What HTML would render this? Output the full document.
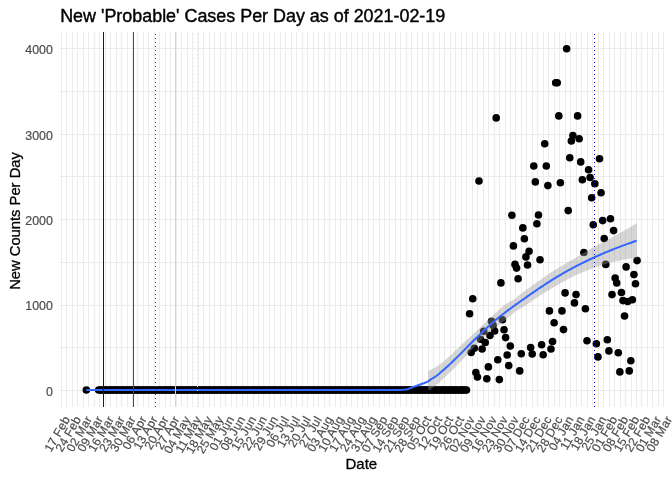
<!DOCTYPE html><html><head><meta charset="utf-8"><style>html,body{margin:0;padding:0;background:#fff;width:672px;height:480px;overflow:hidden}</style></head><body><svg width="672" height="480" viewBox="0 0 672 480" style="position:absolute;left:0;top:0">
<rect width="672" height="480" fill="#fff"/>
<path d="M61.5 32.0V407.0M66.5 32.0V407.0M72.5 32.0V407.0M77.5 32.0V407.0M83.5 32.0V407.0M88.5 32.0V407.0M94.5 32.0V407.0M99.5 32.0V407.0M105.5 32.0V407.0M110.5 32.0V407.0M116.5 32.0V407.0M121.5 32.0V407.0M127.5 32.0V407.0M132.5 32.0V407.0M137.5 32.0V407.0M143.5 32.0V407.0M148.5 32.0V407.0M154.5 32.0V407.0M159.5 32.0V407.0M165.5 32.0V407.0M170.5 32.0V407.0M176.5 32.0V407.0M181.5 32.0V407.0M187.5 32.0V407.0M192.5 32.0V407.0M198.5 32.0V407.0M203.5 32.0V407.0M209.5 32.0V407.0M214.5 32.0V407.0M220.5 32.0V407.0M225.5 32.0V407.0M231.5 32.0V407.0M236.5 32.0V407.0M242.5 32.0V407.0M247.5 32.0V407.0M253.5 32.0V407.0M258.5 32.0V407.0M263.5 32.0V407.0M269.5 32.0V407.0M274.5 32.0V407.0M280.5 32.0V407.0M285.5 32.0V407.0M291.5 32.0V407.0M296.5 32.0V407.0M302.5 32.0V407.0M307.5 32.0V407.0M313.5 32.0V407.0M318.5 32.0V407.0M324.5 32.0V407.0M329.5 32.0V407.0M335.5 32.0V407.0M340.5 32.0V407.0M346.5 32.0V407.0M351.5 32.0V407.0M357.5 32.0V407.0M362.5 32.0V407.0M368.5 32.0V407.0M373.5 32.0V407.0M379.5 32.0V407.0M384.5 32.0V407.0M389.5 32.0V407.0M395.5 32.0V407.0M400.5 32.0V407.0M406.5 32.0V407.0M411.5 32.0V407.0M417.5 32.0V407.0M422.5 32.0V407.0M428.5 32.0V407.0M433.5 32.0V407.0M439.5 32.0V407.0M444.5 32.0V407.0M450.5 32.0V407.0M455.5 32.0V407.0M461.5 32.0V407.0M466.5 32.0V407.0M472.5 32.0V407.0M477.5 32.0V407.0M483.5 32.0V407.0M488.5 32.0V407.0M494.5 32.0V407.0M499.5 32.0V407.0M505.5 32.0V407.0M510.5 32.0V407.0M515.5 32.0V407.0M521.5 32.0V407.0M526.5 32.0V407.0M532.5 32.0V407.0M537.5 32.0V407.0M543.5 32.0V407.0M548.5 32.0V407.0M554.5 32.0V407.0M559.5 32.0V407.0M565.5 32.0V407.0M570.5 32.0V407.0M576.5 32.0V407.0M581.5 32.0V407.0M587.5 32.0V407.0M592.5 32.0V407.0M598.5 32.0V407.0M603.5 32.0V407.0M609.5 32.0V407.0M614.5 32.0V407.0M620.5 32.0V407.0M625.5 32.0V407.0M631.5 32.0V407.0M636.5 32.0V407.0M641.5 32.0V407.0M647.5 32.0V407.0M652.5 32.0V407.0M658.5 32.0V407.0M663.5 32.0V407.0M60 390.5H664M60 347.5H664M60 305.5H664M60 262.5H664M60 219.5H664M60 176.5H664M60 134.5H664M60 91.5H664M60 48.5H664" stroke="#EBEBEB" stroke-width="1" fill="none" shape-rendering="crispEdges"/>
<g fill="#000"><circle cx="86.34" cy="390.0" r="3.8"/><circle cx="98.66" cy="390.0" r="3.8"/><circle cx="100.23" cy="390.0" r="3.8"/><circle cx="101.79" cy="390.0" r="3.8"/><circle cx="103.36" cy="390.0" r="3.8"/><circle cx="104.92" cy="390.0" r="3.8"/><circle cx="106.49" cy="390.0" r="3.8"/><circle cx="108.05" cy="390.0" r="3.8"/><circle cx="109.62" cy="390.0" r="3.8"/><circle cx="111.18" cy="390.0" r="3.8"/><circle cx="112.75" cy="390.0" r="3.8"/><circle cx="114.31" cy="390.0" r="3.8"/><circle cx="115.88" cy="390.0" r="3.8"/><circle cx="117.45" cy="390.0" r="3.8"/><circle cx="119.01" cy="390.0" r="3.8"/><circle cx="120.58" cy="390.0" r="3.8"/><circle cx="122.14" cy="390.0" r="3.8"/><circle cx="123.71" cy="390.0" r="3.8"/><circle cx="125.27" cy="390.0" r="3.8"/><circle cx="126.84" cy="390.0" r="3.8"/><circle cx="128.4" cy="390.0" r="3.8"/><circle cx="129.97" cy="390.0" r="3.8"/><circle cx="131.53" cy="390.0" r="3.8"/><circle cx="133.1" cy="390.0" r="3.8"/><circle cx="134.66" cy="390.0" r="3.8"/><circle cx="136.23" cy="390.0" r="3.8"/><circle cx="137.79" cy="390.0" r="3.8"/><circle cx="139.36" cy="390.0" r="3.8"/><circle cx="140.92" cy="390.0" r="3.8"/><circle cx="142.49" cy="390.0" r="3.8"/><circle cx="144.05" cy="390.0" r="3.8"/><circle cx="145.62" cy="390.0" r="3.8"/><circle cx="147.18" cy="390.0" r="3.8"/><circle cx="148.75" cy="390.0" r="3.8"/><circle cx="150.31" cy="390.0" r="3.8"/><circle cx="151.88" cy="390.0" r="3.8"/><circle cx="153.44" cy="390.0" r="3.8"/><circle cx="155.01" cy="390.0" r="3.8"/><circle cx="156.57" cy="390.0" r="3.8"/><circle cx="158.14" cy="390.0" r="3.8"/><circle cx="159.7" cy="390.0" r="3.8"/><circle cx="161.27" cy="390.0" r="3.8"/><circle cx="162.83" cy="390.0" r="3.8"/><circle cx="164.4" cy="390.0" r="3.8"/><circle cx="165.96" cy="390.0" r="3.8"/><circle cx="167.53" cy="390.0" r="3.8"/><circle cx="169.09" cy="390.0" r="3.8"/><circle cx="170.66" cy="390.0" r="3.8"/><circle cx="172.23" cy="390.0" r="3.8"/><circle cx="173.79" cy="390.0" r="3.8"/><circle cx="175.36" cy="390.0" r="3.8"/><circle cx="176.92" cy="390.0" r="3.8"/><circle cx="178.49" cy="390.0" r="3.8"/><circle cx="180.05" cy="390.0" r="3.8"/><circle cx="181.62" cy="390.0" r="3.8"/><circle cx="183.18" cy="390.0" r="3.8"/><circle cx="184.75" cy="390.0" r="3.8"/><circle cx="186.31" cy="390.0" r="3.8"/><circle cx="187.88" cy="390.0" r="3.8"/><circle cx="189.44" cy="390.0" r="3.8"/><circle cx="191.01" cy="390.0" r="3.8"/><circle cx="192.57" cy="390.0" r="3.8"/><circle cx="194.14" cy="390.0" r="3.8"/><circle cx="195.7" cy="390.0" r="3.8"/><circle cx="197.27" cy="390.0" r="3.8"/><circle cx="198.83" cy="390.0" r="3.8"/><circle cx="200.4" cy="390.0" r="3.8"/><circle cx="201.96" cy="390.0" r="3.8"/><circle cx="203.53" cy="390.0" r="3.8"/><circle cx="205.09" cy="390.0" r="3.8"/><circle cx="206.66" cy="390.0" r="3.8"/><circle cx="208.22" cy="390.0" r="3.8"/><circle cx="209.79" cy="390.0" r="3.8"/><circle cx="211.35" cy="390.0" r="3.8"/><circle cx="212.92" cy="390.0" r="3.8"/><circle cx="214.48" cy="390.0" r="3.8"/><circle cx="216.05" cy="390.0" r="3.8"/><circle cx="217.61" cy="390.0" r="3.8"/><circle cx="219.18" cy="390.0" r="3.8"/><circle cx="220.74" cy="390.0" r="3.8"/><circle cx="222.31" cy="390.0" r="3.8"/><circle cx="223.87" cy="390.0" r="3.8"/><circle cx="225.44" cy="390.0" r="3.8"/><circle cx="227.01" cy="390.0" r="3.8"/><circle cx="228.57" cy="390.0" r="3.8"/><circle cx="230.14" cy="390.0" r="3.8"/><circle cx="231.7" cy="390.0" r="3.8"/><circle cx="233.27" cy="390.0" r="3.8"/><circle cx="234.83" cy="390.0" r="3.8"/><circle cx="236.4" cy="390.0" r="3.8"/><circle cx="237.96" cy="390.0" r="3.8"/><circle cx="239.53" cy="390.0" r="3.8"/><circle cx="241.09" cy="390.0" r="3.8"/><circle cx="242.66" cy="390.0" r="3.8"/><circle cx="244.22" cy="390.0" r="3.8"/><circle cx="245.79" cy="390.0" r="3.8"/><circle cx="247.35" cy="390.0" r="3.8"/><circle cx="248.92" cy="390.0" r="3.8"/><circle cx="250.48" cy="390.0" r="3.8"/><circle cx="252.05" cy="390.0" r="3.8"/><circle cx="253.61" cy="390.0" r="3.8"/><circle cx="255.18" cy="390.0" r="3.8"/><circle cx="256.74" cy="390.0" r="3.8"/><circle cx="258.31" cy="390.0" r="3.8"/><circle cx="259.87" cy="390.0" r="3.8"/><circle cx="261.44" cy="390.0" r="3.8"/><circle cx="263.0" cy="390.0" r="3.8"/><circle cx="264.57" cy="390.0" r="3.8"/><circle cx="266.13" cy="390.0" r="3.8"/><circle cx="267.7" cy="390.0" r="3.8"/><circle cx="269.26" cy="390.0" r="3.8"/><circle cx="270.83" cy="390.0" r="3.8"/><circle cx="272.39" cy="390.0" r="3.8"/><circle cx="273.96" cy="390.0" r="3.8"/><circle cx="275.52" cy="390.0" r="3.8"/><circle cx="277.09" cy="390.0" r="3.8"/><circle cx="278.65" cy="390.0" r="3.8"/><circle cx="280.22" cy="390.0" r="3.8"/><circle cx="281.79" cy="390.0" r="3.8"/><circle cx="283.35" cy="390.0" r="3.8"/><circle cx="284.92" cy="390.0" r="3.8"/><circle cx="286.48" cy="390.0" r="3.8"/><circle cx="288.05" cy="390.0" r="3.8"/><circle cx="289.61" cy="390.0" r="3.8"/><circle cx="291.18" cy="390.0" r="3.8"/><circle cx="292.74" cy="390.0" r="3.8"/><circle cx="294.31" cy="390.0" r="3.8"/><circle cx="295.87" cy="390.0" r="3.8"/><circle cx="297.44" cy="390.0" r="3.8"/><circle cx="299.0" cy="390.0" r="3.8"/><circle cx="300.57" cy="390.0" r="3.8"/><circle cx="302.13" cy="390.0" r="3.8"/><circle cx="303.7" cy="390.0" r="3.8"/><circle cx="305.26" cy="390.0" r="3.8"/><circle cx="306.83" cy="390.0" r="3.8"/><circle cx="308.39" cy="390.0" r="3.8"/><circle cx="309.96" cy="390.0" r="3.8"/><circle cx="311.52" cy="390.0" r="3.8"/><circle cx="313.09" cy="390.0" r="3.8"/><circle cx="314.65" cy="390.0" r="3.8"/><circle cx="316.22" cy="390.0" r="3.8"/><circle cx="317.78" cy="390.0" r="3.8"/><circle cx="319.35" cy="390.0" r="3.8"/><circle cx="320.91" cy="390.0" r="3.8"/><circle cx="322.48" cy="390.0" r="3.8"/><circle cx="324.04" cy="390.0" r="3.8"/><circle cx="325.61" cy="390.0" r="3.8"/><circle cx="327.17" cy="390.0" r="3.8"/><circle cx="328.74" cy="390.0" r="3.8"/><circle cx="330.3" cy="390.0" r="3.8"/><circle cx="331.87" cy="390.0" r="3.8"/><circle cx="333.43" cy="390.0" r="3.8"/><circle cx="335.0" cy="390.0" r="3.8"/><circle cx="336.57" cy="390.0" r="3.8"/><circle cx="338.13" cy="390.0" r="3.8"/><circle cx="339.7" cy="390.0" r="3.8"/><circle cx="341.26" cy="390.0" r="3.8"/><circle cx="342.83" cy="390.0" r="3.8"/><circle cx="344.39" cy="390.0" r="3.8"/><circle cx="345.96" cy="390.0" r="3.8"/><circle cx="347.52" cy="390.0" r="3.8"/><circle cx="349.09" cy="390.0" r="3.8"/><circle cx="350.65" cy="390.0" r="3.8"/><circle cx="352.22" cy="390.0" r="3.8"/><circle cx="353.78" cy="390.0" r="3.8"/><circle cx="355.35" cy="390.0" r="3.8"/><circle cx="356.91" cy="390.0" r="3.8"/><circle cx="358.48" cy="390.0" r="3.8"/><circle cx="360.04" cy="390.0" r="3.8"/><circle cx="361.61" cy="390.0" r="3.8"/><circle cx="363.17" cy="390.0" r="3.8"/><circle cx="364.74" cy="390.0" r="3.8"/><circle cx="366.3" cy="390.0" r="3.8"/><circle cx="367.87" cy="390.0" r="3.8"/><circle cx="369.43" cy="390.0" r="3.8"/><circle cx="371.0" cy="390.0" r="3.8"/><circle cx="372.56" cy="390.0" r="3.8"/><circle cx="374.13" cy="390.0" r="3.8"/><circle cx="375.69" cy="390.0" r="3.8"/><circle cx="377.26" cy="390.0" r="3.8"/><circle cx="378.82" cy="390.0" r="3.8"/><circle cx="380.39" cy="390.0" r="3.8"/><circle cx="381.95" cy="390.0" r="3.8"/><circle cx="383.52" cy="390.0" r="3.8"/><circle cx="385.08" cy="390.0" r="3.8"/><circle cx="386.65" cy="390.0" r="3.8"/><circle cx="388.21" cy="390.0" r="3.8"/><circle cx="389.78" cy="390.0" r="3.8"/><circle cx="391.35" cy="390.0" r="3.8"/><circle cx="392.91" cy="390.0" r="3.8"/><circle cx="394.48" cy="390.0" r="3.8"/><circle cx="396.04" cy="390.0" r="3.8"/><circle cx="397.61" cy="390.0" r="3.8"/><circle cx="399.17" cy="390.0" r="3.8"/><circle cx="400.74" cy="390.0" r="3.8"/><circle cx="402.3" cy="390.0" r="3.8"/><circle cx="403.87" cy="390.0" r="3.8"/><circle cx="405.43" cy="390.0" r="3.8"/><circle cx="407.0" cy="390.0" r="3.8"/><circle cx="408.56" cy="390.0" r="3.8"/><circle cx="410.13" cy="390.0" r="3.8"/><circle cx="411.69" cy="390.0" r="3.8"/><circle cx="413.26" cy="390.0" r="3.8"/><circle cx="414.82" cy="390.0" r="3.8"/><circle cx="416.39" cy="390.0" r="3.8"/><circle cx="417.95" cy="390.0" r="3.8"/><circle cx="419.52" cy="390.0" r="3.8"/><circle cx="421.08" cy="390.0" r="3.8"/><circle cx="422.65" cy="390.0" r="3.8"/><circle cx="424.21" cy="390.0" r="3.8"/><circle cx="425.78" cy="390.0" r="3.8"/><circle cx="427.34" cy="390.0" r="3.8"/><circle cx="428.91" cy="390.0" r="3.8"/><circle cx="430.47" cy="390.0" r="3.8"/><circle cx="432.04" cy="390.0" r="3.8"/><circle cx="433.6" cy="390.0" r="3.8"/><circle cx="435.17" cy="390.0" r="3.8"/><circle cx="436.73" cy="390.0" r="3.8"/><circle cx="438.3" cy="390.0" r="3.8"/><circle cx="439.86" cy="390.0" r="3.8"/><circle cx="441.43" cy="390.0" r="3.8"/><circle cx="442.99" cy="390.0" r="3.8"/><circle cx="444.56" cy="390.0" r="3.8"/><circle cx="446.13" cy="390.0" r="3.8"/><circle cx="447.69" cy="390.0" r="3.8"/><circle cx="449.26" cy="390.0" r="3.8"/><circle cx="450.82" cy="390.0" r="3.8"/><circle cx="452.39" cy="390.0" r="3.8"/><circle cx="453.95" cy="390.0" r="3.8"/><circle cx="455.52" cy="390.0" r="3.8"/><circle cx="457.08" cy="390.0" r="3.8"/><circle cx="458.65" cy="390.0" r="3.8"/><circle cx="460.21" cy="390.0" r="3.8"/><circle cx="461.78" cy="390.0" r="3.8"/><circle cx="463.34" cy="390.0" r="3.8"/><circle cx="464.91" cy="390.0" r="3.8"/><circle cx="466.47" cy="390.0" r="3.8"/><circle cx="469.6" cy="313.75" r="3.8"/><circle cx="471.17" cy="352.5" r="3.8"/><circle cx="472.73" cy="298.75" r="3.8"/><circle cx="474.3" cy="348.3" r="3.8"/><circle cx="475.86" cy="372.5" r="3.8"/><circle cx="477.43" cy="377.0" r="3.8"/><circle cx="478.99" cy="181.0" r="3.8"/><circle cx="480.56" cy="339.2" r="3.8"/><circle cx="482.12" cy="349.0" r="3.8"/><circle cx="483.69" cy="331.25" r="3.8"/><circle cx="485.25" cy="342.5" r="3.8"/><circle cx="486.82" cy="378.75" r="3.8"/><circle cx="488.38" cy="366.9" r="3.8"/><circle cx="489.95" cy="335.5" r="3.8"/><circle cx="491.51" cy="321.25" r="3.8"/><circle cx="493.08" cy="325.4" r="3.8"/><circle cx="494.64" cy="331.0" r="3.8"/><circle cx="496.21" cy="117.9" r="3.8"/><circle cx="497.77" cy="359.75" r="3.8"/><circle cx="499.34" cy="379.6" r="3.8"/><circle cx="500.91" cy="282.9" r="3.8"/><circle cx="502.47" cy="319.8" r="3.8"/><circle cx="504.04" cy="329.8" r="3.8"/><circle cx="505.6" cy="337.6" r="3.8"/><circle cx="507.17" cy="355.0" r="3.8"/><circle cx="508.73" cy="365.6" r="3.8"/><circle cx="510.3" cy="346.0" r="3.8"/><circle cx="511.86" cy="215.3" r="3.8"/><circle cx="513.43" cy="245.9" r="3.8"/><circle cx="514.99" cy="264.4" r="3.8"/><circle cx="516.56" cy="268.1" r="3.8"/><circle cx="518.12" cy="278.75" r="3.8"/><circle cx="519.69" cy="370.9" r="3.8"/><circle cx="521.25" cy="353.75" r="3.8"/><circle cx="522.82" cy="227.9" r="3.8"/><circle cx="524.38" cy="238.75" r="3.8"/><circle cx="525.95" cy="256.9" r="3.8"/><circle cx="527.51" cy="265.0" r="3.8"/><circle cx="529.08" cy="251.25" r="3.8"/><circle cx="530.64" cy="347.5" r="3.8"/><circle cx="532.21" cy="354.0" r="3.8"/><circle cx="533.77" cy="166.0" r="3.8"/><circle cx="535.34" cy="181.9" r="3.8"/><circle cx="536.9" cy="223.75" r="3.8"/><circle cx="538.47" cy="215.0" r="3.8"/><circle cx="540.03" cy="259.75" r="3.8"/><circle cx="541.6" cy="344.75" r="3.8"/><circle cx="543.16" cy="354.75" r="3.8"/><circle cx="544.73" cy="143.75" r="3.8"/><circle cx="546.29" cy="166.0" r="3.8"/><circle cx="547.86" cy="185.6" r="3.8"/><circle cx="549.42" cy="310.9" r="3.8"/><circle cx="550.99" cy="349.0" r="3.8"/><circle cx="552.55" cy="341.5" r="3.8"/><circle cx="554.12" cy="322.75" r="3.8"/><circle cx="555.69" cy="82.75" r="3.8"/><circle cx="557.25" cy="82.75" r="3.8"/><circle cx="558.82" cy="115.9" r="3.8"/><circle cx="560.38" cy="182.75" r="3.8"/><circle cx="561.95" cy="310.9" r="3.8"/><circle cx="563.51" cy="329.6" r="3.8"/><circle cx="565.08" cy="292.9" r="3.8"/><circle cx="566.64" cy="48.75" r="3.8"/><circle cx="568.21" cy="210.6" r="3.8"/><circle cx="569.77" cy="157.75" r="3.8"/><circle cx="571.34" cy="141.0" r="3.8"/><circle cx="572.9" cy="135.6" r="3.8"/><circle cx="574.47" cy="302.9" r="3.8"/><circle cx="576.03" cy="294.6" r="3.8"/><circle cx="577.6" cy="115.9" r="3.8"/><circle cx="579.16" cy="138.75" r="3.8"/><circle cx="580.73" cy="161.9" r="3.8"/><circle cx="582.29" cy="179.75" r="3.8"/><circle cx="583.86" cy="252.5" r="3.8"/><circle cx="585.42" cy="308.75" r="3.8"/><circle cx="586.99" cy="340.8" r="3.8"/><circle cx="588.55" cy="169.75" r="3.8"/><circle cx="590.12" cy="177.5" r="3.8"/><circle cx="591.68" cy="197.75" r="3.8"/><circle cx="593.25" cy="224.75" r="3.8"/><circle cx="594.81" cy="183.75" r="3.8"/><circle cx="596.38" cy="343.75" r="3.8"/><circle cx="597.94" cy="356.9" r="3.8"/><circle cx="599.51" cy="158.75" r="3.8"/><circle cx="601.07" cy="192.75" r="3.8"/><circle cx="602.64" cy="220.6" r="3.8"/><circle cx="604.2" cy="238.5" r="3.8"/><circle cx="605.77" cy="264.4" r="3.8"/><circle cx="607.33" cy="339.75" r="3.8"/><circle cx="608.9" cy="350.9" r="3.8"/><circle cx="610.47" cy="218.75" r="3.8"/><circle cx="612.03" cy="294.6" r="3.8"/><circle cx="613.6" cy="230.6" r="3.8"/><circle cx="615.16" cy="278.0" r="3.8"/><circle cx="616.73" cy="283.0" r="3.8"/><circle cx="618.29" cy="352.8" r="3.8"/><circle cx="619.86" cy="371.9" r="3.8"/><circle cx="621.42" cy="292.5" r="3.8"/><circle cx="622.99" cy="300.6" r="3.8"/><circle cx="624.55" cy="316.0" r="3.8"/><circle cx="626.12" cy="266.9" r="3.8"/><circle cx="627.68" cy="301.5" r="3.8"/><circle cx="629.25" cy="370.9" r="3.8"/><circle cx="630.81" cy="360.8" r="3.8"/><circle cx="632.38" cy="299.75" r="3.8"/><circle cx="633.94" cy="274.6" r="3.8"/><circle cx="635.51" cy="283.75" r="3.8"/><circle cx="637.07" cy="260.6" r="3.8"/></g>
<path d="M428.20 370.90 L429.20 370.46 L430.20 370.00 L431.20 369.52 L432.20 369.02 L433.20 368.50 L434.20 367.96 L435.20 367.38 L436.20 366.78 L437.20 366.14 L438.20 365.47 L439.20 364.77 L440.20 364.04 L441.20 363.29 L442.20 362.51 L443.20 361.71 L444.20 360.88 L445.20 360.04 L446.20 359.18 L447.20 358.30 L448.20 357.40 L449.20 356.49 L450.20 355.57 L451.20 354.64 L452.20 353.69 L453.20 352.74 L454.20 351.79 L455.20 350.83 L456.20 349.87 L457.20 348.90 L458.20 347.94 L459.20 346.97 L460.20 346.02 L461.20 345.06 L462.20 344.11 L463.20 343.17 L464.20 342.24 L465.20 341.33 L466.20 340.42 L467.20 339.51 L468.20 338.60 L469.20 337.69 L470.20 336.77 L471.20 335.85 L472.20 334.92 L473.20 334.00 L474.20 333.07 L475.20 332.13 L476.20 331.20 L477.20 330.27 L478.20 329.33 L479.20 328.40 L480.20 327.46 L481.20 326.53 L482.20 325.59 L483.20 324.66 L484.20 323.73 L485.20 322.80 L486.20 321.88 L487.20 320.95 L488.20 320.03 L489.20 319.12 L490.20 318.19 L491.20 317.24 L492.20 316.28 L493.20 315.30 L494.20 314.33 L495.20 313.35 L496.20 312.38 L497.20 311.41 L498.20 310.46 L499.20 309.53 L500.20 308.61 L501.20 307.73 L502.20 306.88 L503.20 306.06 L504.20 305.28 L505.20 304.55 L506.20 303.87 L507.20 303.25 L508.20 302.69 L509.20 302.15 L510.20 301.62 L511.20 301.08 L512.20 300.50 L513.20 299.87 L514.20 299.18 L515.20 298.45 L516.20 297.68 L517.20 296.89 L518.20 296.08 L519.20 295.26 L520.20 294.43 L521.20 293.60 L522.20 292.78 L523.20 291.98 L524.20 291.20 L525.20 290.45 L526.20 289.72 L527.20 289.01 L528.20 288.30 L529.20 287.60 L530.20 286.91 L531.20 286.23 L532.20 285.54 L533.20 284.86 L534.20 284.18 L535.20 283.49 L536.20 282.80 L537.20 282.11 L538.20 281.41 L539.20 280.70 L540.20 279.99 L541.20 279.27 L542.20 278.55 L543.20 277.83 L544.20 277.12 L545.20 276.41 L546.20 275.70 L547.20 275.00 L548.20 274.31 L549.20 273.63 L550.20 272.97 L551.20 272.31 L552.20 271.66 L553.20 271.02 L554.20 270.39 L555.20 269.76 L556.20 269.13 L557.20 268.51 L558.20 267.90 L559.20 267.29 L560.20 266.68 L561.20 266.08 L562.20 265.48 L563.20 264.88 L564.20 264.29 L565.20 263.71 L566.20 263.13 L567.20 262.56 L568.20 261.99 L569.20 261.42 L570.20 260.85 L571.20 260.28 L572.20 259.71 L573.20 259.14 L574.20 258.56 L575.20 257.98 L576.20 257.40 L577.20 256.81 L578.20 256.22 L579.20 255.63 L580.20 255.03 L581.20 254.44 L582.20 253.85 L583.20 253.25 L584.20 252.66 L585.20 252.07 L586.20 251.49 L587.20 250.90 L588.20 250.33 L589.20 249.75 L590.20 249.19 L591.20 248.63 L592.20 248.07 L593.20 247.53 L594.20 246.98 L595.20 246.44 L596.20 245.90 L597.20 245.36 L598.20 244.83 L599.20 244.29 L600.20 243.75 L601.20 243.21 L602.20 242.66 L603.20 242.12 L604.20 241.57 L605.20 241.02 L606.20 240.46 L607.20 239.91 L608.20 239.36 L609.20 238.80 L610.20 238.25 L611.20 237.70 L612.20 237.14 L613.20 236.59 L614.20 236.04 L615.20 235.49 L616.20 234.94 L617.20 234.40 L618.20 233.86 L619.20 233.32 L620.20 232.78 L621.20 232.25 L622.20 231.70 L623.20 231.16 L624.20 230.61 L625.20 230.06 L626.20 229.49 L627.20 228.92 L628.20 228.34 L629.20 227.76 L630.20 227.16 L631.20 226.56 L632.20 225.96 L633.20 225.35 L634.20 224.73 L635.20 224.11 L636.20 223.48 L636.80 223.10 L636.80 258.19 L636.20 258.23 L635.20 258.28 L634.20 258.35 L633.20 258.43 L632.20 258.51 L631.20 258.61 L630.20 258.72 L629.20 258.83 L628.20 258.96 L627.20 259.11 L626.20 259.26 L625.20 259.43 L624.20 259.61 L623.20 259.80 L622.20 260.00 L621.20 260.21 L620.20 260.43 L619.20 260.65 L618.20 260.88 L617.20 261.11 L616.20 261.34 L615.20 261.58 L614.20 261.81 L613.20 262.05 L612.20 262.30 L611.20 262.55 L610.20 262.81 L609.20 263.07 L608.20 263.33 L607.20 263.61 L606.20 263.89 L605.20 264.17 L604.20 264.47 L603.20 264.77 L602.20 265.08 L601.20 265.40 L600.20 265.72 L599.20 266.06 L598.20 266.40 L597.20 266.76 L596.20 267.11 L595.20 267.48 L594.20 267.84 L593.20 268.21 L592.20 268.59 L591.20 268.96 L590.20 269.34 L589.20 269.72 L588.20 270.09 L587.20 270.47 L586.20 270.85 L585.20 271.24 L584.20 271.63 L583.20 272.02 L582.20 272.42 L581.20 272.83 L580.20 273.24 L579.20 273.66 L578.20 274.09 L577.20 274.53 L576.20 274.98 L575.20 275.44 L574.20 275.92 L573.20 276.40 L572.20 276.90 L571.20 277.41 L570.20 277.93 L569.20 278.45 L568.20 278.98 L567.20 279.52 L566.20 280.07 L565.20 280.62 L564.20 281.17 L563.20 281.72 L562.20 282.28 L561.20 282.84 L560.20 283.40 L559.20 283.98 L558.20 284.55 L557.20 285.14 L556.20 285.72 L555.20 286.31 L554.20 286.91 L553.20 287.50 L552.20 288.10 L551.20 288.71 L550.20 289.31 L549.20 289.91 L548.20 290.51 L547.20 291.11 L546.20 291.71 L545.20 292.30 L544.20 292.90 L543.20 293.51 L542.20 294.12 L541.20 294.73 L540.20 295.36 L539.20 295.99 L538.20 296.63 L537.20 297.29 L536.20 297.96 L535.20 298.64 L534.20 299.33 L533.20 300.02 L532.20 300.73 L531.20 301.43 L530.20 302.13 L529.20 302.83 L528.20 303.53 L527.20 304.22 L526.20 304.91 L525.20 305.58 L524.20 306.24 L523.20 306.87 L522.20 307.47 L521.20 308.07 L520.20 308.65 L519.20 309.23 L518.20 309.82 L517.20 310.42 L516.20 311.05 L515.20 311.71 L514.20 312.41 L513.20 313.16 L512.20 313.97 L511.20 314.84 L510.20 315.75 L509.20 316.69 L508.20 317.64 L507.20 318.56 L506.20 319.45 L505.20 320.28 L504.20 321.07 L503.20 321.84 L502.20 322.58 L501.20 323.29 L500.20 324.00 L499.20 324.69 L498.20 325.38 L497.20 326.07 L496.20 326.76 L495.20 327.47 L494.20 328.20 L493.20 328.94 L492.20 329.72 L491.20 330.52 L490.20 331.36 L489.20 332.23 L488.20 333.13 L487.20 334.05 L486.20 334.99 L485.20 335.93 L484.20 336.89 L483.20 337.85 L482.20 338.83 L481.20 339.83 L480.20 340.83 L479.20 341.84 L478.20 342.86 L477.20 343.89 L476.20 344.93 L475.20 345.98 L474.20 347.04 L473.20 348.10 L472.20 349.18 L471.20 350.26 L470.20 351.34 L469.20 352.44 L468.20 353.54 L467.20 354.64 L466.20 355.75 L465.20 356.86 L464.20 357.95 L463.20 359.04 L462.20 360.11 L461.20 361.17 L460.20 362.21 L459.20 363.25 L458.20 364.28 L457.20 365.30 L456.20 366.31 L455.20 367.32 L454.20 368.30 L453.20 369.27 L452.20 370.23 L451.20 371.19 L450.20 372.15 L449.20 373.11 L448.20 374.07 L447.20 375.03 L446.20 375.99 L445.20 376.93 L444.20 377.86 L443.20 378.77 L442.20 379.70 L441.20 380.63 L440.20 381.55 L439.20 382.49 L438.20 383.41 L437.20 384.30 L436.20 385.14 L435.20 385.91 L434.20 386.60 L433.20 387.26 L432.20 387.96 L431.20 388.75 L430.20 389.70 L429.20 390.00 L428.20 390.00Z" fill="#999999" fill-opacity="0.4"/>
<path d="M86.20 390.00 L88.20 390.00 L90.20 390.00 L92.20 390.00 L94.20 390.00 L96.20 390.00 L98.20 390.00 L100.20 390.00 L102.20 390.00 L104.20 390.00 L106.20 390.00 L108.20 390.00 L110.20 390.00 L112.20 390.00 L114.20 390.00 L116.20 390.00 L118.20 390.00 L120.20 390.00 L122.20 390.00 L124.20 390.00 L126.20 390.00 L128.20 390.00 L130.20 390.00 L132.20 390.00 L134.20 390.00 L136.20 390.00 L138.20 390.00 L140.20 390.00 L142.20 390.00 L144.20 390.00 L146.20 390.00 L148.20 390.00 L150.20 390.00 L152.20 390.00 L154.20 390.00 L156.20 390.00 L158.20 390.00 L160.20 390.00 L162.20 390.00 L164.20 390.00 L166.20 390.00 L168.20 390.00 L170.20 390.00 L172.20 390.00 L174.20 390.00 L176.20 390.00 L178.20 390.00 L180.20 390.00 L182.20 390.00 L184.20 390.00 L186.20 390.00 L188.20 390.00 L190.20 390.00 L192.20 390.00 L194.20 390.00 L196.20 390.00 L198.20 390.00 L200.20 390.00 L202.20 390.00 L204.20 390.00 L206.20 390.00 L208.20 390.00 L210.20 390.00 L212.20 390.00 L214.20 390.00 L216.20 390.00 L218.20 390.00 L220.20 390.00 L222.20 390.00 L224.20 390.00 L226.20 390.00 L228.20 390.00 L230.20 390.00 L232.20 390.00 L234.20 390.00 L236.20 390.00 L238.20 390.00 L240.20 390.00 L242.20 390.00 L244.20 390.00 L246.20 390.00 L248.20 390.00 L250.20 390.00 L252.20 390.00 L254.20 390.00 L256.20 390.00 L258.20 390.00 L260.20 390.00 L262.20 390.00 L264.20 390.00 L266.20 390.00 L268.20 390.00 L270.20 390.00 L272.20 390.00 L274.20 390.00 L276.20 390.00 L278.20 390.00 L280.20 390.00 L282.20 390.00 L284.20 390.00 L286.20 390.00 L288.20 390.00 L290.20 390.00 L292.20 390.00 L294.20 390.00 L296.20 390.00 L298.20 390.00 L300.20 390.00 L302.20 390.00 L304.20 390.00 L306.20 390.00 L308.20 390.00 L310.20 390.00 L312.20 390.00 L314.20 390.00 L316.20 390.00 L318.20 390.00 L320.20 390.00 L322.20 390.00 L324.20 390.00 L326.20 390.00 L328.20 390.00 L330.20 390.00 L332.20 390.00 L334.20 390.00 L336.20 390.00 L338.20 390.00 L340.20 390.00 L342.20 390.00 L344.20 390.00 L346.20 390.00 L348.20 390.00 L350.20 390.00 L352.20 390.00 L354.20 390.00 L356.20 390.00 L358.20 390.00 L360.20 390.00 L362.20 390.00 L364.20 390.00 L366.20 390.00 L368.20 390.00 L370.20 390.00 L372.20 390.00 L374.20 390.00 L376.20 390.00 L378.20 390.00 L380.20 390.00 L382.20 390.00 L384.20 390.00 L386.20 390.00 L388.20 390.00 L390.20 390.00 L392.20 390.00 L394.20 390.00 L396.20 389.99 L398.20 389.97 L400.20 389.92 L402.20 389.86 L404.20 389.74 L406.20 389.55 L408.20 389.02 L410.20 388.05 L412.20 387.27 L414.20 386.65 L416.20 386.02 L418.20 385.30 L420.20 384.55 L422.20 383.79 L424.20 383.07 L426.20 382.30 L428.20 381.30 L430.20 379.85 L432.20 378.49 L434.20 377.28 L436.20 375.96 L438.20 374.44 L440.20 372.80 L442.20 371.10 L444.20 369.37 L446.20 367.58 L448.20 365.73 L450.20 363.86 L452.20 361.96 L454.20 360.05 L456.20 358.09 L458.20 356.11 L460.20 354.11 L462.20 352.11 L464.20 350.10 L466.20 348.08 L468.20 346.07 L470.20 344.06 L472.20 342.05 L474.20 340.05 L476.20 338.07 L478.20 336.10 L480.20 334.14 L482.20 332.21 L484.20 330.31 L486.20 328.43 L488.20 326.58 L490.20 324.77 L492.20 323.00 L494.20 321.26 L496.20 319.57 L498.20 317.92 L500.20 316.31 L502.20 314.73 L504.20 313.18 L506.20 311.66 L508.20 310.16 L510.20 308.69 L512.20 307.23 L514.20 305.79 L516.20 304.37 L518.20 302.95 L520.20 301.54 L522.20 300.13 L524.20 298.72 L526.20 297.32 L528.20 295.92 L530.20 294.52 L532.20 293.13 L534.20 291.75 L536.20 290.38 L538.20 289.02 L540.20 287.67 L542.20 286.33 L544.20 285.01 L546.20 283.70 L548.20 282.41 L550.20 281.14 L552.20 279.88 L554.20 278.65 L556.20 277.43 L558.20 276.23 L560.20 275.04 L562.20 273.88 L564.20 272.73 L566.20 271.60 L568.20 270.48 L570.20 269.39 L572.20 268.31 L574.20 267.24 L576.20 266.19 L578.20 265.16 L580.20 264.14 L582.20 263.13 L584.20 262.14 L586.20 261.17 L588.20 260.21 L590.20 259.26 L592.20 258.33 L594.20 257.41 L596.20 256.51 L598.20 255.62 L600.20 254.74 L602.20 253.87 L604.20 253.02 L606.20 252.18 L608.20 251.35 L610.20 250.53 L612.20 249.72 L614.20 248.93 L616.20 248.14 L618.20 247.37 L620.20 246.61 L622.20 245.85 L624.20 245.11 L626.20 244.38 L628.20 243.65 L630.20 242.94 L632.20 242.24 L634.20 241.54 L636.20 240.85 L636.80 240.65" stroke="#3366FF" stroke-width="2" fill="none"/>
<path d="M103.5 407.0V32.0" stroke="#0000FF" stroke-width="1" shape-rendering="crispEdges"/>
<path d="M133.5 407.0V32.0" stroke="#FF0000" stroke-width="1" shape-rendering="crispEdges"/>
<path d="M155.5 407.0V32.0" stroke="#FF0000" stroke-width="1" stroke-dasharray="1 3" shape-rendering="crispEdges"/>
<path d="M175.5 407.0V32.0" stroke="#FFC0CB" stroke-width="1" shape-rendering="crispEdges"/>
<path d="M197.5 407.0V32.0" stroke="#FFC0CB" stroke-width="1" stroke-dasharray="1 3" shape-rendering="crispEdges"/>
<path d="M594.5 407.0V32.0" stroke="#0000FF" stroke-width="1" stroke-dasharray="1 3" shape-rendering="crispEdges"/>
<text x="60.2" y="21.9" font-family="Liberation Sans, Arial, sans-serif" font-size="17.92" fill="#000" stroke="#000" stroke-width="0.4">New 'Probable' Cases Per Day as of 2021-02-19</text>
<text x="52.9" y="395.9" font-family="Liberation Sans, Arial, sans-serif" font-size="12.4" fill="#4D4D4D" stroke="#4D4D4D" stroke-width="0.2" text-anchor="end">0</text>
<text x="52.9" y="310.4" font-family="Liberation Sans, Arial, sans-serif" font-size="12.4" fill="#4D4D4D" stroke="#4D4D4D" stroke-width="0.2" text-anchor="end">1000</text>
<text x="52.9" y="224.9" font-family="Liberation Sans, Arial, sans-serif" font-size="12.4" fill="#4D4D4D" stroke="#4D4D4D" stroke-width="0.2" text-anchor="end">2000</text>
<text x="52.9" y="139.5" font-family="Liberation Sans, Arial, sans-serif" font-size="12.4" fill="#4D4D4D" stroke="#4D4D4D" stroke-width="0.2" text-anchor="end">3000</text>
<text x="52.9" y="54.0" font-family="Liberation Sans, Arial, sans-serif" font-size="12.4" fill="#4D4D4D" stroke="#4D4D4D" stroke-width="0.2" text-anchor="end">4000</text>
<text transform="translate(20,221) rotate(-90)" font-family="Liberation Sans, Arial, sans-serif" font-size="14.76" fill="#000" stroke="#000" stroke-width="0.3" text-anchor="middle">New Counts Per Day</text>
<text x="361.3" y="469.3" font-family="Liberation Sans, Arial, sans-serif" font-size="15" fill="#000" stroke="#000" stroke-width="0.3" text-anchor="middle">Date</text>
<text transform="translate(61.40,413.5) rotate(-60)" font-family="Liberation Sans, Arial, sans-serif" font-size="12" letter-spacing="0.25" fill="#4D4D4D" stroke="#4D4D4D" stroke-width="0.2" text-anchor="end" x="-0.3" y="10.7">17 Feb</text>
<text transform="translate(72.35,413.5) rotate(-60)" font-family="Liberation Sans, Arial, sans-serif" font-size="12" letter-spacing="0.25" fill="#4D4D4D" stroke="#4D4D4D" stroke-width="0.2" text-anchor="end" x="-0.3" y="10.7">24 Feb</text>
<text transform="translate(83.29,413.5) rotate(-60)" font-family="Liberation Sans, Arial, sans-serif" font-size="12" letter-spacing="0.25" fill="#4D4D4D" stroke="#4D4D4D" stroke-width="0.2" text-anchor="end" x="-0.3" y="10.7">02 Mar</text>
<text transform="translate(94.24,413.5) rotate(-60)" font-family="Liberation Sans, Arial, sans-serif" font-size="12" letter-spacing="0.25" fill="#4D4D4D" stroke="#4D4D4D" stroke-width="0.2" text-anchor="end" x="-0.3" y="10.7">09 Mar</text>
<text transform="translate(105.18,413.5) rotate(-60)" font-family="Liberation Sans, Arial, sans-serif" font-size="12" letter-spacing="0.25" fill="#4D4D4D" stroke="#4D4D4D" stroke-width="0.2" text-anchor="end" x="-0.3" y="10.7">16 Mar</text>
<text transform="translate(116.13,413.5) rotate(-60)" font-family="Liberation Sans, Arial, sans-serif" font-size="12" letter-spacing="0.25" fill="#4D4D4D" stroke="#4D4D4D" stroke-width="0.2" text-anchor="end" x="-0.3" y="10.7">23 Mar</text>
<text transform="translate(127.07,413.5) rotate(-60)" font-family="Liberation Sans, Arial, sans-serif" font-size="12" letter-spacing="0.25" fill="#4D4D4D" stroke="#4D4D4D" stroke-width="0.2" text-anchor="end" x="-0.3" y="10.7">30 Mar</text>
<text transform="translate(138.02,413.5) rotate(-60)" font-family="Liberation Sans, Arial, sans-serif" font-size="12" letter-spacing="0.25" fill="#4D4D4D" stroke="#4D4D4D" stroke-width="0.2" text-anchor="end" x="-0.3" y="10.7">06 Apr</text>
<text transform="translate(148.96,413.5) rotate(-60)" font-family="Liberation Sans, Arial, sans-serif" font-size="12" letter-spacing="0.25" fill="#4D4D4D" stroke="#4D4D4D" stroke-width="0.2" text-anchor="end" x="-0.3" y="10.7">13 Apr</text>
<text transform="translate(159.91,413.5) rotate(-60)" font-family="Liberation Sans, Arial, sans-serif" font-size="12" letter-spacing="0.25" fill="#4D4D4D" stroke="#4D4D4D" stroke-width="0.2" text-anchor="end" x="-0.3" y="10.7">20 Apr</text>
<text transform="translate(170.85,413.5) rotate(-60)" font-family="Liberation Sans, Arial, sans-serif" font-size="12" letter-spacing="0.25" fill="#4D4D4D" stroke="#4D4D4D" stroke-width="0.2" text-anchor="end" x="-0.3" y="10.7">27 Apr</text>
<text transform="translate(181.80,413.5) rotate(-60)" font-family="Liberation Sans, Arial, sans-serif" font-size="12" letter-spacing="0.25" fill="#4D4D4D" stroke="#4D4D4D" stroke-width="0.2" text-anchor="end" x="-0.3" y="10.7">04 May</text>
<text transform="translate(192.75,413.5) rotate(-60)" font-family="Liberation Sans, Arial, sans-serif" font-size="12" letter-spacing="0.25" fill="#4D4D4D" stroke="#4D4D4D" stroke-width="0.2" text-anchor="end" x="-0.3" y="10.7">11 May</text>
<text transform="translate(203.69,413.5) rotate(-60)" font-family="Liberation Sans, Arial, sans-serif" font-size="12" letter-spacing="0.25" fill="#4D4D4D" stroke="#4D4D4D" stroke-width="0.2" text-anchor="end" x="-0.3" y="10.7">18 May</text>
<text transform="translate(214.64,413.5) rotate(-60)" font-family="Liberation Sans, Arial, sans-serif" font-size="12" letter-spacing="0.25" fill="#4D4D4D" stroke="#4D4D4D" stroke-width="0.2" text-anchor="end" x="-0.3" y="10.7">25 May</text>
<text transform="translate(225.58,413.5) rotate(-60)" font-family="Liberation Sans, Arial, sans-serif" font-size="12" letter-spacing="0.25" fill="#4D4D4D" stroke="#4D4D4D" stroke-width="0.2" text-anchor="end" x="-0.3" y="10.7">01 Jun</text>
<text transform="translate(236.53,413.5) rotate(-60)" font-family="Liberation Sans, Arial, sans-serif" font-size="12" letter-spacing="0.25" fill="#4D4D4D" stroke="#4D4D4D" stroke-width="0.2" text-anchor="end" x="-0.3" y="10.7">08 Jun</text>
<text transform="translate(247.47,413.5) rotate(-60)" font-family="Liberation Sans, Arial, sans-serif" font-size="12" letter-spacing="0.25" fill="#4D4D4D" stroke="#4D4D4D" stroke-width="0.2" text-anchor="end" x="-0.3" y="10.7">15 Jun</text>
<text transform="translate(258.42,413.5) rotate(-60)" font-family="Liberation Sans, Arial, sans-serif" font-size="12" letter-spacing="0.25" fill="#4D4D4D" stroke="#4D4D4D" stroke-width="0.2" text-anchor="end" x="-0.3" y="10.7">22 Jun</text>
<text transform="translate(269.36,413.5) rotate(-60)" font-family="Liberation Sans, Arial, sans-serif" font-size="12" letter-spacing="0.25" fill="#4D4D4D" stroke="#4D4D4D" stroke-width="0.2" text-anchor="end" x="-0.3" y="10.7">29 Jun</text>
<text transform="translate(280.31,413.5) rotate(-60)" font-family="Liberation Sans, Arial, sans-serif" font-size="12" letter-spacing="0.25" fill="#4D4D4D" stroke="#4D4D4D" stroke-width="0.2" text-anchor="end" x="-0.3" y="10.7">06 Jul</text>
<text transform="translate(291.25,413.5) rotate(-60)" font-family="Liberation Sans, Arial, sans-serif" font-size="12" letter-spacing="0.25" fill="#4D4D4D" stroke="#4D4D4D" stroke-width="0.2" text-anchor="end" x="-0.3" y="10.7">13 Jul</text>
<text transform="translate(302.20,413.5) rotate(-60)" font-family="Liberation Sans, Arial, sans-serif" font-size="12" letter-spacing="0.25" fill="#4D4D4D" stroke="#4D4D4D" stroke-width="0.2" text-anchor="end" x="-0.3" y="10.7">20 Jul</text>
<text transform="translate(313.15,413.5) rotate(-60)" font-family="Liberation Sans, Arial, sans-serif" font-size="12" letter-spacing="0.25" fill="#4D4D4D" stroke="#4D4D4D" stroke-width="0.2" text-anchor="end" x="-0.3" y="10.7">27 Jul</text>
<text transform="translate(324.09,413.5) rotate(-60)" font-family="Liberation Sans, Arial, sans-serif" font-size="12" letter-spacing="0.25" fill="#4D4D4D" stroke="#4D4D4D" stroke-width="0.2" text-anchor="end" x="-0.3" y="10.7">03 Aug</text>
<text transform="translate(335.04,413.5) rotate(-60)" font-family="Liberation Sans, Arial, sans-serif" font-size="12" letter-spacing="0.25" fill="#4D4D4D" stroke="#4D4D4D" stroke-width="0.2" text-anchor="end" x="-0.3" y="10.7">10 Aug</text>
<text transform="translate(345.98,413.5) rotate(-60)" font-family="Liberation Sans, Arial, sans-serif" font-size="12" letter-spacing="0.25" fill="#4D4D4D" stroke="#4D4D4D" stroke-width="0.2" text-anchor="end" x="-0.3" y="10.7">17 Aug</text>
<text transform="translate(356.93,413.5) rotate(-60)" font-family="Liberation Sans, Arial, sans-serif" font-size="12" letter-spacing="0.25" fill="#4D4D4D" stroke="#4D4D4D" stroke-width="0.2" text-anchor="end" x="-0.3" y="10.7">24 Aug</text>
<text transform="translate(367.87,413.5) rotate(-60)" font-family="Liberation Sans, Arial, sans-serif" font-size="12" letter-spacing="0.25" fill="#4D4D4D" stroke="#4D4D4D" stroke-width="0.2" text-anchor="end" x="-0.3" y="10.7">31 Aug</text>
<text transform="translate(378.82,413.5) rotate(-60)" font-family="Liberation Sans, Arial, sans-serif" font-size="12" letter-spacing="0.25" fill="#4D4D4D" stroke="#4D4D4D" stroke-width="0.2" text-anchor="end" x="-0.3" y="10.7">07 Sep</text>
<text transform="translate(389.76,413.5) rotate(-60)" font-family="Liberation Sans, Arial, sans-serif" font-size="12" letter-spacing="0.25" fill="#4D4D4D" stroke="#4D4D4D" stroke-width="0.2" text-anchor="end" x="-0.3" y="10.7">14 Sep</text>
<text transform="translate(400.71,413.5) rotate(-60)" font-family="Liberation Sans, Arial, sans-serif" font-size="12" letter-spacing="0.25" fill="#4D4D4D" stroke="#4D4D4D" stroke-width="0.2" text-anchor="end" x="-0.3" y="10.7">21 Sep</text>
<text transform="translate(411.65,413.5) rotate(-60)" font-family="Liberation Sans, Arial, sans-serif" font-size="12" letter-spacing="0.25" fill="#4D4D4D" stroke="#4D4D4D" stroke-width="0.2" text-anchor="end" x="-0.3" y="10.7">28 Sep</text>
<text transform="translate(422.60,413.5) rotate(-60)" font-family="Liberation Sans, Arial, sans-serif" font-size="12" letter-spacing="0.25" fill="#4D4D4D" stroke="#4D4D4D" stroke-width="0.2" text-anchor="end" x="-0.3" y="10.7">05 Oct</text>
<text transform="translate(433.55,413.5) rotate(-60)" font-family="Liberation Sans, Arial, sans-serif" font-size="12" letter-spacing="0.25" fill="#4D4D4D" stroke="#4D4D4D" stroke-width="0.2" text-anchor="end" x="-0.3" y="10.7">12 Oct</text>
<text transform="translate(444.49,413.5) rotate(-60)" font-family="Liberation Sans, Arial, sans-serif" font-size="12" letter-spacing="0.25" fill="#4D4D4D" stroke="#4D4D4D" stroke-width="0.2" text-anchor="end" x="-0.3" y="10.7">19 Oct</text>
<text transform="translate(455.44,413.5) rotate(-60)" font-family="Liberation Sans, Arial, sans-serif" font-size="12" letter-spacing="0.25" fill="#4D4D4D" stroke="#4D4D4D" stroke-width="0.2" text-anchor="end" x="-0.3" y="10.7">26 Oct</text>
<text transform="translate(466.38,413.5) rotate(-60)" font-family="Liberation Sans, Arial, sans-serif" font-size="12" letter-spacing="0.25" fill="#4D4D4D" stroke="#4D4D4D" stroke-width="0.2" text-anchor="end" x="-0.3" y="10.7">02 Nov</text>
<text transform="translate(477.33,413.5) rotate(-60)" font-family="Liberation Sans, Arial, sans-serif" font-size="12" letter-spacing="0.25" fill="#4D4D4D" stroke="#4D4D4D" stroke-width="0.2" text-anchor="end" x="-0.3" y="10.7">09 Nov</text>
<text transform="translate(488.27,413.5) rotate(-60)" font-family="Liberation Sans, Arial, sans-serif" font-size="12" letter-spacing="0.25" fill="#4D4D4D" stroke="#4D4D4D" stroke-width="0.2" text-anchor="end" x="-0.3" y="10.7">16 Nov</text>
<text transform="translate(499.22,413.5) rotate(-60)" font-family="Liberation Sans, Arial, sans-serif" font-size="12" letter-spacing="0.25" fill="#4D4D4D" stroke="#4D4D4D" stroke-width="0.2" text-anchor="end" x="-0.3" y="10.7">23 Nov</text>
<text transform="translate(510.16,413.5) rotate(-60)" font-family="Liberation Sans, Arial, sans-serif" font-size="12" letter-spacing="0.25" fill="#4D4D4D" stroke="#4D4D4D" stroke-width="0.2" text-anchor="end" x="-0.3" y="10.7">30 Nov</text>
<text transform="translate(521.11,413.5) rotate(-60)" font-family="Liberation Sans, Arial, sans-serif" font-size="12" letter-spacing="0.25" fill="#4D4D4D" stroke="#4D4D4D" stroke-width="0.2" text-anchor="end" x="-0.3" y="10.7">07 Dec</text>
<text transform="translate(532.05,413.5) rotate(-60)" font-family="Liberation Sans, Arial, sans-serif" font-size="12" letter-spacing="0.25" fill="#4D4D4D" stroke="#4D4D4D" stroke-width="0.2" text-anchor="end" x="-0.3" y="10.7">14 Dec</text>
<text transform="translate(543.00,413.5) rotate(-60)" font-family="Liberation Sans, Arial, sans-serif" font-size="12" letter-spacing="0.25" fill="#4D4D4D" stroke="#4D4D4D" stroke-width="0.2" text-anchor="end" x="-0.3" y="10.7">21 Dec</text>
<text transform="translate(553.95,413.5) rotate(-60)" font-family="Liberation Sans, Arial, sans-serif" font-size="12" letter-spacing="0.25" fill="#4D4D4D" stroke="#4D4D4D" stroke-width="0.2" text-anchor="end" x="-0.3" y="10.7">28 Dec</text>
<text transform="translate(564.89,413.5) rotate(-60)" font-family="Liberation Sans, Arial, sans-serif" font-size="12" letter-spacing="0.25" fill="#4D4D4D" stroke="#4D4D4D" stroke-width="0.2" text-anchor="end" x="-0.3" y="10.7">04 Jan</text>
<text transform="translate(575.84,413.5) rotate(-60)" font-family="Liberation Sans, Arial, sans-serif" font-size="12" letter-spacing="0.25" fill="#4D4D4D" stroke="#4D4D4D" stroke-width="0.2" text-anchor="end" x="-0.3" y="10.7">11 Jan</text>
<text transform="translate(586.78,413.5) rotate(-60)" font-family="Liberation Sans, Arial, sans-serif" font-size="12" letter-spacing="0.25" fill="#4D4D4D" stroke="#4D4D4D" stroke-width="0.2" text-anchor="end" x="-0.3" y="10.7">18 Jan</text>
<text transform="translate(597.73,413.5) rotate(-60)" font-family="Liberation Sans, Arial, sans-serif" font-size="12" letter-spacing="0.25" fill="#4D4D4D" stroke="#4D4D4D" stroke-width="0.2" text-anchor="end" x="-0.3" y="10.7">25 Jan</text>
<text transform="translate(608.67,413.5) rotate(-60)" font-family="Liberation Sans, Arial, sans-serif" font-size="12" letter-spacing="0.25" fill="#4D4D4D" stroke="#4D4D4D" stroke-width="0.2" text-anchor="end" x="-0.3" y="10.7">01 Feb</text>
<text transform="translate(619.62,413.5) rotate(-60)" font-family="Liberation Sans, Arial, sans-serif" font-size="12" letter-spacing="0.25" fill="#4D4D4D" stroke="#4D4D4D" stroke-width="0.2" text-anchor="end" x="-0.3" y="10.7">08 Feb</text>
<text transform="translate(630.56,413.5) rotate(-60)" font-family="Liberation Sans, Arial, sans-serif" font-size="12" letter-spacing="0.25" fill="#4D4D4D" stroke="#4D4D4D" stroke-width="0.2" text-anchor="end" x="-0.3" y="10.7">15 Feb</text>
<text transform="translate(641.51,413.5) rotate(-60)" font-family="Liberation Sans, Arial, sans-serif" font-size="12" letter-spacing="0.25" fill="#4D4D4D" stroke="#4D4D4D" stroke-width="0.2" text-anchor="end" x="-0.3" y="10.7">22 Feb</text>
<text transform="translate(652.45,413.5) rotate(-60)" font-family="Liberation Sans, Arial, sans-serif" font-size="12" letter-spacing="0.25" fill="#4D4D4D" stroke="#4D4D4D" stroke-width="0.2" text-anchor="end" x="-0.3" y="10.7">01 Mar</text>
<text transform="translate(663.40,413.5) rotate(-60)" font-family="Liberation Sans, Arial, sans-serif" font-size="12" letter-spacing="0.25" fill="#4D4D4D" stroke="#4D4D4D" stroke-width="0.2" text-anchor="end" x="-0.3" y="10.7">08 Mar</text>
</svg></body></html>
